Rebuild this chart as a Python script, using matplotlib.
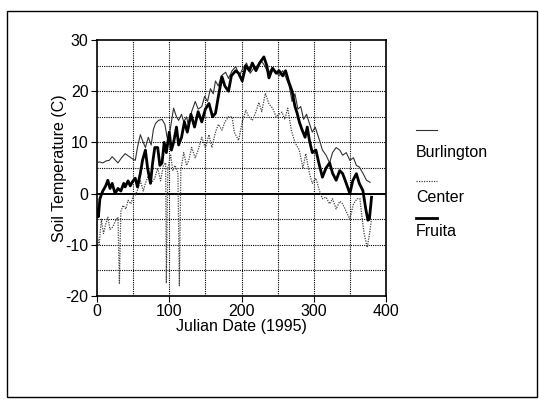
import matplotlib
matplotlib.use("Agg")
import matplotlib.pyplot as plt
from matplotlib.lines import Line2D
from matplotlib.patches import Rectangle

plt.rcParams['font.family'] = ['Liberation Sans', 'DejaVu Sans']
plt.rcParams['axes.unicode_minus'] = False

burl_day = [0, 3, 8, 13, 17, 21, 25, 29, 34, 39, 44, 49, 53, 56, 60, 64, 67, 71, 75, 78,
            81, 85, 90, 94, 97, 99, 103, 106, 110, 113, 117, 120, 124, 127, 131, 136, 140,
            145, 149, 153, 157, 161, 164, 168, 172, 178, 182, 187, 192, 197, 202, 207, 212,
            217, 222, 227, 232, 237, 242, 247, 252, 257, 262, 266, 270, 274, 278, 282, 286,
            290, 294, 298, 302, 308, 312, 317, 322, 326, 331, 336, 340, 345, 350, 355, 359,
            363, 368, 373, 378]
burl_temp = [6.0, 6.2, 6.0, 6.4, 6.5, 7.2, 6.6, 6.0, 7.0, 7.8, 7.3, 6.8, 6.5, 9.0, 11.5, 10.0,
             9.0, 11.0, 9.5, 12.5, 13.7, 14.3, 14.5, 13.5, 11.0, 10.4, 14.0, 16.7, 15.0, 14.3,
             15.5, 14.0, 15.0, 13.0, 16.0, 18.0, 16.5, 17.0, 19.0, 18.0, 20.5, 19.5, 22.0, 21.0,
             23.0, 23.7, 22.5, 24.0, 24.8, 23.0, 24.5, 25.5, 23.5, 24.5, 25.0, 26.0, 25.0, 23.5,
             24.5, 24.0, 23.0, 24.0, 22.5, 21.0, 18.0, 19.5, 16.5, 17.0, 14.5, 15.5, 13.7, 12.0,
             13.0, 10.4, 8.5, 7.5, 6.0, 8.0, 9.0, 8.5, 7.5, 8.0, 6.5, 7.0, 5.5, 5.2, 4.0, 2.6, 2.2]

fruita_day = [0, 2, 4, 8, 12, 15, 18, 21, 25, 29, 33, 37, 39, 43, 46, 49, 53, 56, 60, 63, 67,
              70, 74, 77, 80, 84, 87, 90, 93, 96, 100, 103, 106, 110, 113, 117, 121, 125, 130,
              135, 140, 145, 150, 155, 160, 164, 168, 173, 177, 182, 186, 192, 196, 201, 206,
              211, 215, 220, 225, 231, 235, 238, 243, 248, 252, 257, 261, 265, 270, 274, 277,
              280, 284, 288, 291, 294, 298, 303, 307, 312, 317, 322, 326, 331, 336, 340, 345,
              350, 354, 359, 363, 368, 372, 375, 377, 380]
fruita_temp = [-3.0, -4.5, -1.0, 0.5, 1.5, 2.6, 1.0, 2.0, 0.0, 1.0, 0.5, 2.0, 1.3, 2.5, 1.5, 2.3,
               3.0, 1.3, 4.0, 6.5, 8.5, 5.0, 2.0, 6.0, 9.0, 9.0, 5.5, 6.0, 10.0, 8.0, 12.0, 8.5,
               10.0, 13.0, 9.5, 11.0, 14.0, 12.0, 15.5, 13.0, 16.0, 14.0, 16.5, 17.6, 15.0, 15.7,
               19.0, 22.8, 21.0, 20.0, 23.0, 24.0, 23.5, 22.0, 25.0, 24.0, 25.5, 24.0, 25.5, 26.7,
               25.0, 22.6, 24.5, 23.5, 24.0, 23.0, 24.0, 22.0, 20.0, 17.0, 15.7, 14.0, 12.4, 11.0,
               13.0, 10.4, 8.0, 8.5, 6.0, 3.2, 5.0, 6.0, 4.0, 2.6, 4.5, 3.9, 2.0, 0.0, 2.5, 3.9,
               2.0, 0.6, -3.0, -5.2, -5.0, -0.7]

center_day = [0, 3, 6, 9, 12, 15, 18, 22, 25, 29, 31, 33, 36, 40, 43, 47, 50, 53, 57, 60, 64,
              67, 71, 75, 80, 84, 88, 92, 95, 96, 98, 102, 105, 108, 112, 114, 116, 120, 124,
              127, 131, 136, 140, 145, 150, 155, 159, 164, 168, 173, 177, 182, 187, 190, 196,
              201, 206, 210, 215, 220, 224, 228, 233, 238, 243, 248, 252, 256, 260, 264, 269,
              274, 280, 285, 289, 294, 298, 303, 308, 312, 317, 322, 326, 331, 336, 340, 345,
              350, 355, 360, 364, 367, 370, 374, 377, 380]
center_temp = [-8.0, -10.0, -5.0, -7.8, -6.0, -4.6, -7.0, -6.5, -5.5, -4.6, -17.5, -3.5, -2.3,
               -3.0, -1.3, -2.0, -0.5, -0.3, 1.0, 2.5, 0.5, 2.0, 3.5, 2.0, 3.0, 5.0, 2.5, 5.5,
               6.0, -17.5, 5.0, 7.5, 4.5, 5.5, 4.0, -18.0, 4.5, 8.0, 5.5, 6.5, 9.0, 7.0, 8.5,
               11.0, 9.0, 11.5, 9.0, 12.0, 13.5, 12.4, 14.0, 15.0, 15.0, 12.0, 10.4, 14.0, 16.3,
               15.0, 14.3, 16.0, 17.8, 16.0, 19.6, 17.5, 16.7, 15.0, 15.5, 15.9, 14.5, 16.7, 12.4,
               10.0, 8.5, 5.0, 7.8, 4.0, 2.0, 3.0, 0.5, -1.0, -0.7, -2.0, -1.0, -3.0, -1.5, -2.0,
               -3.5, -5.0, -2.0, -1.0, -1.0, -5.0, -8.0, -10.5, -8.0, -5.0]

series_names = ["Burlington", "Center", "Fruita"]
x_ticks = [0, 100, 200, 300, 400]
y_ticks = [-20, -10, 0, 10, 20, 30]

W, H = 539, 405
fig = plt.figure(figsize=(W / 100, H / 100), dpi=100)
fig.patch.set_facecolor("white")

# outer frame
fig.patches.append(Rectangle((7 / W, 1 - 397 / H), 530 / W, 386 / H, transform=fig.transFigure,
                             fill=False, edgecolor="black", linewidth=1.0))

ax = fig.add_axes([97 / W, 1 - 296 / H, 289 / W, 256 / H])
ax.set_xlim(0, 400)
ax.set_ylim(-20, 30)

for xv in range(50, 400, 50):
    ax.axvline(xv, color="black", linestyle=(0, (1, 1)), linewidth=0.8, zorder=1)
for yv in range(-15, 30, 5):
    if yv == 0:
        continue
    ax.axhline(yv, color="black", linestyle=(0, (1, 1)), linewidth=0.8, zorder=1)
ax.axhline(0, color="black", linewidth=1.4, zorder=2)

ax.plot(burl_day, burl_temp, color="#333333", linewidth=0.8, zorder=3)
ax.plot(center_day, center_temp, color="#444444", linewidth=0.9, linestyle=(0, (1, 1)), zorder=3)
ax.plot(fruita_day, fruita_temp, color="black", linewidth=2.0, zorder=4)

ax.set_xticks(x_ticks)
ax.set_yticks(y_ticks)
ax.tick_params(axis="both", direction="out", length=4, width=0.8, labelsize=11.5, pad=2)
for s in ax.spines.values():
    s.set_linewidth(1.2)
ax.set_xlabel("Julian Date (1995)", fontsize=11.5, labelpad=0)
ax.set_ylabel("Soil Temperature (C)", fontsize=11.5)
ax.yaxis.set_label_coords(-0.105, 0.5)

# legend (manual, line above label)
leg_x0, leg_x1 = 416 / W, 437 / W
line_ys = [130, 181, 218]
text_ys = [152, 197, 232]
styles = [dict(color="#333333", linewidth=0.8),
          dict(color="#444444", linewidth=0.9, linestyle=(0, (1, 1))),
          dict(color="black", linewidth=2.0)]
for name, ly, ty, st in zip(series_names, line_ys, text_ys, styles):
    fig.lines.append(Line2D([leg_x0, leg_x1], [1 - ly / H, 1 - ly / H], transform=fig.transFigure, **st))
    fig.text(leg_x0, 1 - ty / H, name, fontsize=11.5, va="center", ha="left")

fig.savefig("out.png", dpi=100, facecolor="white")
